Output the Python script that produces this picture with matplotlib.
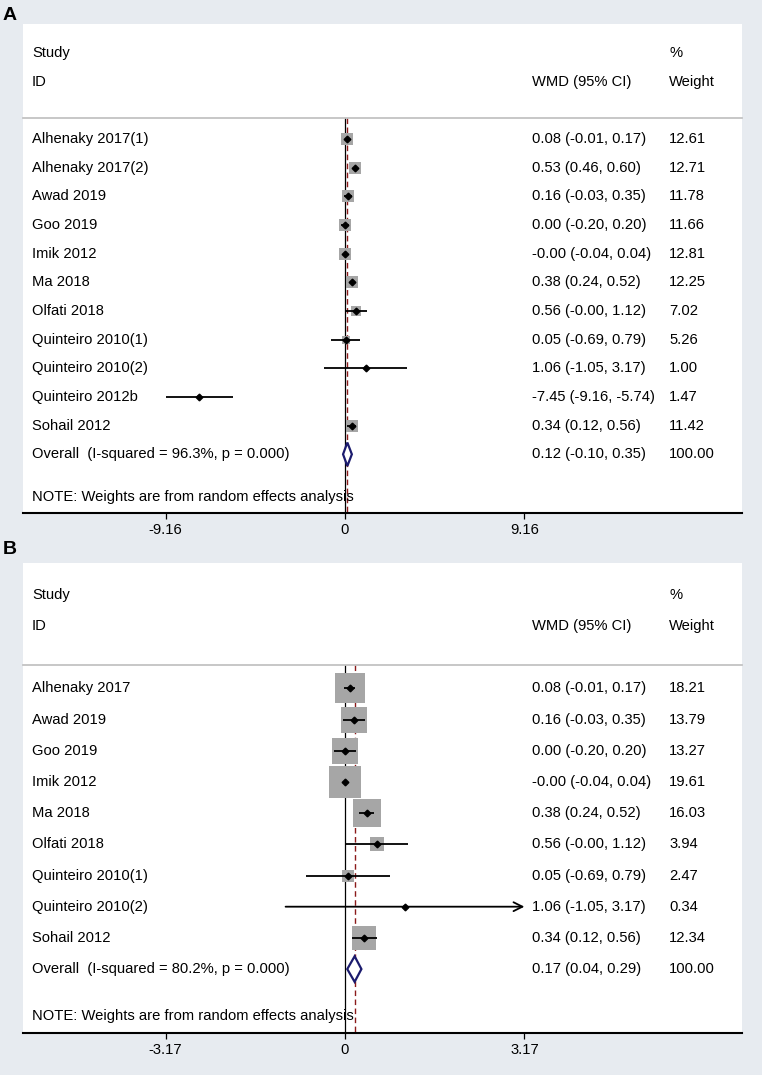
import numpy as np
import matplotlib.pyplot as plt
from matplotlib.patches import Polygon
from matplotlib.transforms import blended_transform_factory

plt.rcParams['font.family'] = ['Liberation Sans', 'DejaVu Sans']

# Panel A data
a_studies = ['Alhenaky 2017(1)', 'Alhenaky 2017(2)', 'Awad 2019', 'Goo 2019', 'Imik 2012',
             'Ma 2018', 'Olfati 2018', 'Quinteiro 2010(1)', 'Quinteiro 2010(2)',
             'Quinteiro 2012b', 'Sohail 2012']
a_est = [0.08, 0.53, 0.16, 0.00, -0.0, 0.38, 0.56, 0.05, 1.06, -7.45, 0.34]
a_lo = [-0.01, 0.46, -0.03, -0.20, -0.04, 0.24, -0.0, -0.69, -1.05, -9.16, 0.12]
a_hi = [0.17, 0.60, 0.35, 0.20, 0.04, 0.52, 1.12, 0.79, 3.17, -5.74, 0.56]
a_wt = [12.61, 12.71, 11.78, 11.66, 12.81, 12.25, 7.02, 5.26, 1.00, 1.47, 11.42]
a_overall = [0.12, -0.10, 0.35]
a_total_wt = 100.00
a_i2 = '96.3%'
a_p = '0.000'
a_tick = 9.16

# Panel B data
b_studies = ['Alhenaky 2017', 'Awad 2019', 'Goo 2019', 'Imik 2012', 'Ma 2018',
             'Olfati 2018', 'Quinteiro 2010(1)', 'Quinteiro 2010(2)', 'Sohail 2012']
b_est = [0.08, 0.16, 0.00, -0.0, 0.38, 0.56, 0.05, 1.06, 0.34]
b_lo = [-0.01, -0.03, -0.20, -0.04, 0.24, -0.0, -0.69, -1.05, 0.12]
b_hi = [0.17, 0.35, 0.20, 0.04, 0.52, 1.12, 0.79, 3.17, 0.56]
b_wt = [18.21, 13.79, 13.27, 19.61, 16.03, 3.94, 2.47, 0.34, 12.34]
b_overall = [0.17, 0.04, 0.29]
b_total_wt = 100.00
b_i2 = '80.2%'
b_p = '0.000'
b_tick = 3.17

W, H = 762, 1075
FS = 10.6
bg = '#e7ebf0'

fig = plt.figure(figsize=(W / 100, H / 100), dpi=100, facecolor=bg)


def draw_panel(ax, studies, est, lo, hi, wt, overall, total_wt, i2, p, tick, box_k,
               arrow_right=()):
    n = len(studies)
    ov_row = n
    bottom = ov_row + 2.05
    ax.set_facecolor('white')
    ax.set_xlim(-1.795 * tick, 2.213 * tick)
    ax.set_ylim(bottom, -4.02)
    for s in ['top', 'left', 'right']:
        ax.spines[s].set_visible(False)
    ax.spines['bottom'].set_linewidth(1.5)
    ax.set_yticks([])
    ax.set_xticks([-tick, 0, tick])
    ax.set_xticklabels([f'{-tick:.2f}', '0', f'{tick:.2f}'], fontsize=FS)
    ax.tick_params(axis='x', direction='out', length=4.5, width=0.9, pad=3)

    tr = blended_transform_factory(ax.transAxes, ax.transData)
    x_name, x_ci, x_wt = 0.0125, 0.708, 0.8985

    # header
    ax.text(x_name, -3, 'Study', transform=tr, fontsize=FS, va='center')
    ax.text(x_name, -2, 'ID', transform=tr, fontsize=FS, va='center')
    ax.text(x_ci, -2, 'WMD (95% CI)', transform=tr, fontsize=FS, va='center')
    ax.text(x_wt, -3, '%', transform=tr, fontsize=FS, va='center')
    ax.text(x_wt, -2, 'Weight', transform=tr, fontsize=FS, va='center')
    ax.plot([0, 1], [-0.75, -0.75], transform=tr, color='#bdbdbd', lw=1.2, clip_on=False)

    # reference lines
    ax.vlines(0, -0.75, bottom, color='black', lw=0.9, zorder=1)
    ax.vlines(overall[0], -0.75, bottom, color='#8b1a1a', lw=1.0,
              linestyle=(0, (4, 2.5)), zorder=1)

    for i in range(n):
        side = box_k * np.sqrt(wt[i]) * 0.72
        ax.plot(est[i], i, marker='s', markersize=side, color='#a6a6a6', mew=0, zorder=2)
        if studies[i] in arrow_right:
            ax.annotate('', xy=(hi[i], i), xytext=(lo[i], i),
                        arrowprops=dict(arrowstyle='->', lw=1.3, color='black',
                                        mutation_scale=16, shrinkA=0, shrinkB=0),
                        zorder=3)
        else:
            ax.plot([lo[i], hi[i]], [i, i], color='black', lw=1.3, zorder=3,
                    solid_capstyle='butt')
        ax.plot(est[i], i, marker='D', markersize=3.4, color='black', zorder=4)
        ax.text(x_name, i, studies[i], transform=tr, fontsize=FS, va='center')
        ax.text(x_ci, i, f'{est[i]:.2f} ({lo[i]:.2f}, {hi[i]:.2f})', transform=tr,
                fontsize=FS, va='center')
        ax.text(x_wt, i, f'{wt[i]:.2f}', transform=tr, fontsize=FS, va='center')

    # overall diamond
    oe, ol, oh = overall
    h = 0.41
    dia = Polygon([(ol, ov_row), (oe, ov_row - h), (oh, ov_row), (oe, ov_row + h)],
                  closed=True, facecolor='white', edgecolor='#1b1b6e', lw=1.6, zorder=5)
    ax.add_patch(dia)
    ax.text(x_name, ov_row, f'Overall  (I-squared = {i2}, p = {p})', transform=tr,
            fontsize=FS, va='center')
    ax.text(x_ci, ov_row, f'{oe:.2f} ({ol:.2f}, {oh:.2f})', transform=tr,
            fontsize=FS, va='center')
    ax.text(x_wt, ov_row, f'{total_wt:.2f}', transform=tr, fontsize=FS, va='center')
    ax.text(x_name, ov_row + 1.5, 'NOTE: Weights are from random effects analysis',
            transform=tr, fontsize=FS, va='center')


ax_a = fig.add_axes([23 / W, 1 - 513 / H, 719 / W, 489 / H])
draw_panel(ax_a, a_studies, a_est, a_lo, a_hi, a_wt, a_overall, a_total_wt, a_i2, a_p,
           a_tick, 3.4)

ax_b = fig.add_axes([23 / W, 1 - 1033 / H, 719 / W, 470 / H])
draw_panel(ax_b, b_studies, b_est, b_lo, b_hi, b_wt, b_overall, b_total_wt, b_i2, b_p,
           b_tick, 7.1, arrow_right=('Quinteiro 2010(2)',))

fig.text(3 / W, 1 - 16 / H, 'A', fontsize=14, fontweight='bold', va='center')
fig.text(3 / W, 1 - 549 / H, 'B', fontsize=14, fontweight='bold', va='center')

fig.savefig('out.png', dpi=100, facecolor=bg)
